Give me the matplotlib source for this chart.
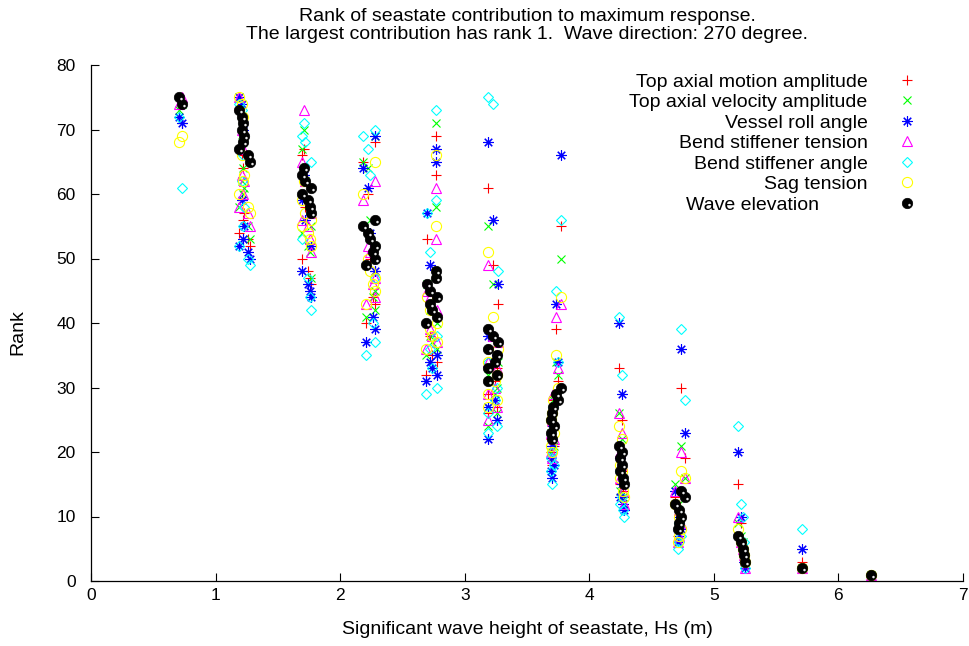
import matplotlib

matplotlib.use("Agg")

import matplotlib.pyplot as plt
from matplotlib.path import Path

plt.rcParams["font.family"] = ["Liberation Sans", "DejaVu Sans"]

# Hs of each seastate, listed in order of wave-elevation rank 75 -> 1
hs = [
    0.71, 0.73,
    1.19, 1.21, 1.22, 1.21, 1.23, 1.22, 1.19, 1.26, 1.28,
    1.71, 1.69, 1.72, 1.77, 1.69, 1.74, 1.76, 1.77,
    2.28, 2.18, 2.22, 2.24, 2.28, 2.26, 2.28, 2.21,
    2.77, 2.77, 2.70, 2.72, 2.78, 2.72, 2.74, 2.78, 2.69,
    3.19, 3.23, 3.27, 3.19, 3.26, 3.24, 3.19, 3.26, 3.19,
    3.77, 3.73, 3.75, 3.71, 3.70, 3.69, 3.72, 3.69, 3.70,
    4.24, 4.26, 4.25, 4.26, 4.25, 4.27, 4.28,
    4.74, 4.77, 4.69, 4.72, 4.74, 4.72, 4.71,
    5.19, 5.22, 5.23, 5.24, 5.25,
    5.71,
    6.26,
]

rank_motion = [
    72, 71,
    73, 66, 64, 59, 57, 56, 54, 53, 52,
    67, 66, 58, 52, 50, 48, 47, 46,
    68, 65, 60, 50, 48, 44, 43, 40,
    69, 63, 53, 45, 41, 38, 35, 34, 32,
    61, 49, 43, 36, 33, 31, 29, 27, 26,
    55, 39, 31, 28, 24, 22, 21, 20, 18,
    33, 25, 19, 17, 15, 14, 13,
    30, 19, 13, 11, 10, 8, 7,
    15, 9, 5, 4, 3,
    3,
    1,
]
rank_velocity = [
    73, 74,
    75, 68, 64, 62, 61, 60, 58, 55, 53,
    70, 67, 62, 55, 54, 52, 51, 47,
    69, 65, 64, 56, 45, 44, 42, 41,
    71, 58, 46, 42, 40, 38, 37, 36, 35,
    55, 46, 34, 32, 30, 29, 27, 26, 24,
    50, 34, 32, 28, 25, 23, 21, 20, 19,
    26, 22, 19, 17, 14, 13, 12,
    21, 16, 15, 12, 9, 7, 6,
    9, 7, 6, 4, 3,
    2,
    1,
]
rank_roll = [
    72, 71,
    75, 74, 70, 59, 55, 53, 52, 51, 50,
    63, 59, 56, 52, 48, 46, 45, 44,
    69, 64, 61, 54, 48, 41, 39, 37,
    67, 65, 57, 49, 35, 34, 33, 32, 31,
    68, 56, 46, 38, 35, 28, 27, 25, 22,
    66, 43, 34, 24, 21, 19, 18, 17, 16,
    40, 29, 19, 15, 13, 12, 11,
    36, 23, 14, 10, 8, 7, 6,
    20, 10, 5, 3, 2,
    5,
    1,
]
rank_bs_tension = [
    74, 75,
    75, 70, 67, 63, 62, 60, 58, 57, 55,
    73, 65, 62, 57, 56, 55, 53, 51,
    62, 59, 52, 51, 47, 46, 44, 43,
    61, 53, 45, 44, 42, 39, 38, 37, 36,
    49, 38, 37, 34, 33, 30, 29, 27, 25,
    43, 41, 33, 29, 25, 23, 22, 20, 19,
    26, 23, 20, 18, 16, 14, 12,
    20, 16, 14, 11, 9, 7, 6,
    10, 6, 5, 4, 2,
    2,
    1,
]
rank_bs_angle = [
    72, 61,
    74, 73, 66, 62, 58, 55, 52, 50, 49,
    71, 69, 68, 65, 53, 47, 44, 42,
    70, 69, 67, 63, 47, 40, 37, 35,
    73, 59, 57, 51, 38, 36, 33, 30, 29,
    75, 74, 48, 34, 30, 28, 26, 24, 23,
    56, 45, 34, 27, 20, 19, 18, 17, 15,
    41, 32, 17, 13, 12, 11, 10,
    39, 28, 12, 9, 7, 6, 5,
    24, 12, 10, 6, 2,
    8,
    1,
]
rank_sag = [
    68, 69,
    75, 74, 72, 66, 63, 62, 60, 58, 57,
    62, 59, 57, 56, 55, 54, 53, 52,
    65, 60, 50, 48, 47, 46, 45, 43,
    66, 55, 44, 42, 40, 39, 38, 37, 36,
    51, 41, 36, 34, 32, 31, 29, 28, 27,
    44, 35, 30, 28, 26, 25, 23, 21, 20,
    24, 22, 18, 17, 16, 14, 13,
    17, 16, 12, 10, 8, 7, 6,
    8, 6, 5, 4, 3,
    2,
    1,
]
rank_wave = [
    75, 74,
    73, 72, 71, 70, 69, 68, 67, 66, 65,
    64, 63, 62, 61, 60, 59, 58, 57,
    56, 55, 54, 53, 52, 51, 50, 49,
    48, 47, 46, 45, 44, 43, 42, 41, 40,
    39, 38, 37, 36, 35, 34, 33, 32, 31,
    30, 29, 28, 27, 26, 25, 24, 23, 22,
    21, 20, 19, 18, 17, 16, 15,
    14, 13, 12, 11, 10, 9, 8,
    7, 6, 5, 4, 3,
    2,
    1,
]

labels = [
    "Top axial motion amplitude",
    "Top axial velocity amplitude",
    "Vessel roll angle",
    "Bend stiffener tension",
    "Bend stiffener angle",
    "Sag tension",
    "Wave elevation" + " " * 9,
]

# small light shine on the black balls (gnuplot style)
shine = Path.make_compound_path(
    Path([(-1, -1)], [Path.MOVETO]),
    Path([(1, 1)], [Path.MOVETO]),
    Path.circle(center=(0.38, -0.3), radius=0.24),
)

fig = plt.figure(figsize=(9.69, 6.46), dpi=100)
ax = fig.add_axes([91 / 969, 65 / 646, 872 / 969, 516 / 646])

series = [
    (rank_motion, dict(marker="+", color="#ff0000", ms=7, mew=0.8)),
    (rank_velocity, dict(marker="x", color="#00ff00", ms=6.2, mew=0.8)),
    (rank_roll, dict(marker=(8, 2, 0), color="#0000ff", ms=7.5, mew=0.8)),
    (rank_bs_tension, dict(marker="^", color="#ff00ff", mfc="none", ms=7, mew=0.8)),
    (rank_bs_angle, dict(marker="D", color="#00ffff", mfc="none", ms=5.5, mew=0.8)),
    (rank_sag, dict(marker="o", color="#ffff00", mfc="none", ms=7.3, mew=0.8)),
]

handles = []
for ranks, style in series:
    (h,) = ax.plot(hs, ranks, ls="none", **style)
    handles.append(h)

(ball,) = ax.plot(hs, rank_wave, ls="none", marker="o", color="black", ms=7.5, mew=0.5)
(glint,) = ax.plot(hs, rank_wave, ls="none", marker=shine, color="#e8e8e8", ms=7.5, mew=0)
handles.append((ball, glint))

ax.set_xlim(0, 7)
ax.set_ylim(0, 80)
ax.set_xticks(range(0, 8))
ax.set_yticks(range(0, 81, 10))
ax.spines["top"].set_visible(False)
ax.spines["right"].set_visible(False)
for side in ("left", "bottom"):
    ax.spines[side].set_linewidth(0.9)
ax.tick_params(direction="in", length=6, width=0.8, labelsize=12.5)
ax.tick_params(axis="x", pad=5)
ax.tick_params(axis="y", pad=11)

ax.set_xlabel("Significant wave height of seastate, Hs (m)", fontsize=14)
ax.set_ylabel("Rank", fontsize=14)
ax.xaxis.set_label_coords(0.5, -0.078)
ax.yaxis.set_label_coords(-0.0745, 0.483)

fig.text(
    527 / 969,
    1 - 8 / 646,
    "Rank of seastate contribution to maximum response.\n"
    "The largest contribution has rank 1.  Wave direction: 270 degree.",
    ha="center",
    va="top",
    fontsize=14,
    linespacing=1.07,
)

ax.legend(
    handles,
    labels,
    loc="upper right",
    bbox_to_anchor=(926 / 969, 1 - 73 / 646),
    bbox_transform=fig.transFigure,
    frameon=False,
    markerfirst=False,
    fontsize=14,
    labelspacing=0.15,
    handlelength=2.0,
    handletextpad=1.0,
    borderpad=0,
    borderaxespad=0,
)

fig.savefig("out.png", dpi=100, facecolor="white")
plt.close(fig)
